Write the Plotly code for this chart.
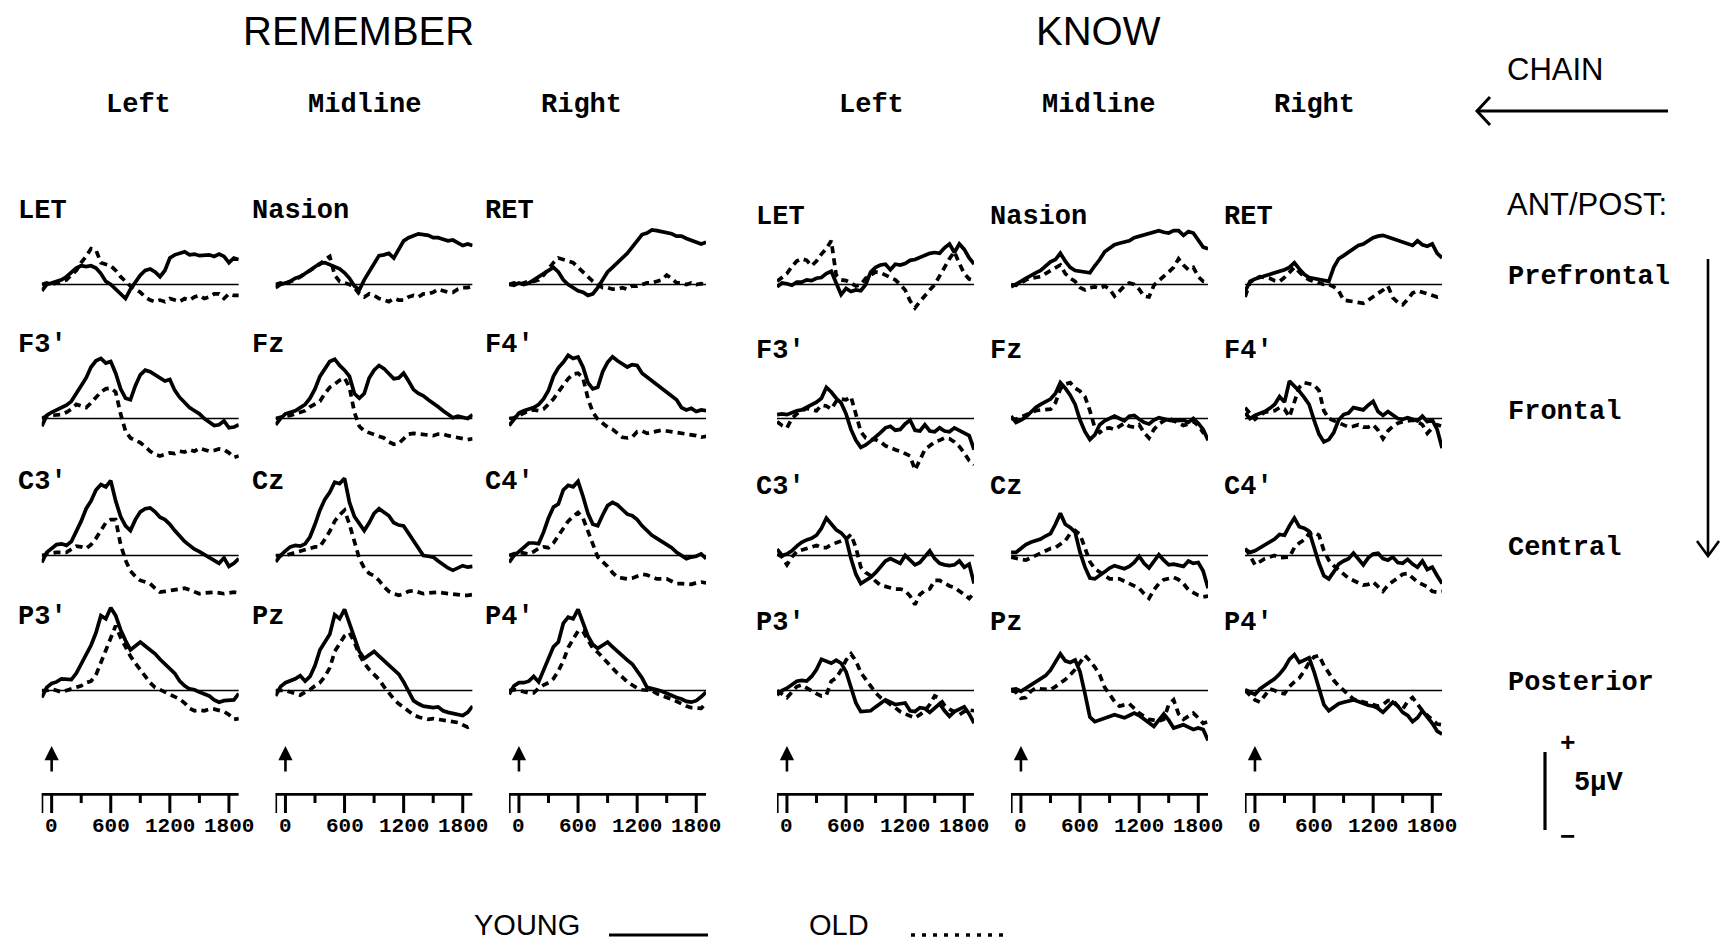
import plotly.graph_objects as go

# ---------------------------------------------------------------------------
# Grand-average ERPs (microvolts), sampled every 50 ms from -100 to 1900 ms
# ---------------------------------------------------------------------------
TIMES_MS = list(range(-100, 1901, 50))

# ---- REMEMBER -------------------------------------------------------------
REM_LET_YOUNG = [-0.4, 0.0, 0.1, 0.2, 0.3, 0.5, 0.8, 1.05, 1.2, 1.15,
                 1.2, 1.05, 0.7, 0.2, 0.0, -0.3, -0.6, -0.9, -0.3, 0.2,
                 0.6, 0.9, 1.0, 0.8, 0.5, 0.9, 1.7, 1.9, 2.0, 2.1,
                 1.9, 1.95, 1.85, 1.9, 1.9, 1.8, 1.95, 1.8, 1.4, 1.7,
                 1.6]
REM_LET_OLD = [0.0, 0.1, 0.0, 0.1, 0.2, 0.3, 0.6, 0.9, 1.4, 1.8,
               2.3, 2.2, 1.4, 1.3, 1.2, 0.9, 0.5, 0.2, -0.1, -0.3,
               -0.5, -0.8, -1.0, -1.1, -1.0, -1.1, -0.9, -1.0, -1.1, -0.9,
               -1.0, -0.8, -0.7, -0.9, -0.8, -0.6, -0.6, -0.9, -0.6, -0.7,
               -0.7]
REM_NASION_YOUNG = [-0.2, 0.0, 0.1, 0.2, 0.4, 0.5, 0.7, 0.9, 1.1, 1.35,
                    1.4, 1.25, 1.15, 1.0, 0.75, 0.4, -0.1, -0.35, 0.3, 0.8,
                    1.4, 1.85, 1.9, 2.0, 1.7, 2.2, 2.8, 3.0, 3.1, 3.25,
                    3.2, 3.15, 3.0, 3.0, 2.9, 2.8, 2.85, 2.7, 2.5, 2.6,
                    2.5]
REM_NASION_OLD = [0.0, 0.1, 0.0, 0.2, 0.3, 0.5, 0.7, 0.9, 1.1, 1.3,
                  1.6, 1.8, 0.6, 0.2, 0.1, 0.0, -0.2, -0.6, -0.8, -0.6,
                  -0.7, -0.9, -1.0, -1.1, -0.9, -1.0, -1.0, -0.8, -0.7, -0.8,
                  -0.6, -0.6, -0.5, -0.3, -0.4, -0.5, -0.5, -0.3, -0.2, -0.2,
                  -0.1]
REM_RET_YOUNG = [0.0, -0.05, 0.1, 0.0, 0.1, 0.3, 0.5, 0.75, 0.9, 1.1,
                 0.8, 0.3, 0.0, -0.2, -0.4, -0.5, -0.7, -0.6, -0.2, 0.3,
                 0.8, 1.1, 1.4, 1.7, 2.0, 2.4, 2.8, 3.2, 3.3, 3.5,
                 3.45, 3.4, 3.3, 3.25, 3.1, 3.1, 2.95, 2.85, 2.7, 2.6,
                 2.7]
REM_RET_OLD = [0.0, 0.1, 0.0, 0.1, 0.2, 0.2, 0.3, 0.6, 1.0, 1.4,
               1.7, 1.6, 1.5, 1.4, 1.1, 0.8, 0.5, 0.2, 0.0, -0.2,
               -0.2, -0.3, -0.3, -0.2, -0.3, -0.1, -0.1, 0.0, 0.1, 0.1,
               0.2, 0.3, 0.6, 0.4, 0.1, 0.1, 0.0, 0.1, 0.0, 0.05,
               0.0]
REM_F3_YOUNG = [-0.5, 0.2, 0.4, 0.55, 0.65, 0.85, 1.1, 1.6, 2.1, 2.6,
                3.3, 3.7, 3.85, 3.55, 3.65, 2.9, 1.9, 1.3, 1.2, 2.1,
                2.8, 3.1, 3.0, 2.8, 2.55, 2.4, 2.5, 1.8, 1.35, 1.0,
                0.7, 0.5, 0.3, 0.0, -0.25, -0.45, -0.4, -0.15, -0.6, -0.55,
                -0.4]
REM_F3_OLD = [0.0, 0.15, 0.2, 0.2, 0.25, 0.4, 0.6, 0.9, 0.8, 0.7,
              1.0, 1.35, 1.7, 1.9, 1.95, 1.7, 0.3, -0.8, -1.25, -1.4,
              -1.55, -1.8, -2.1, -2.3, -2.4, -2.3, -2.2, -2.25, -2.1, -2.15,
              -2.0, -2.1, -1.9, -2.0, -2.1, -2.05, -1.95, -2.0, -2.2, -2.5,
              -2.4]
REM_FZ_YOUNG = [-0.4, 0.0, 0.3, 0.4, 0.5, 0.7, 0.9, 1.3, 1.9, 2.7,
                3.2, 3.65, 3.8, 3.4, 3.1, 2.7, 1.6, 1.3, 1.6, 2.6,
                3.1, 3.4, 3.2, 2.9, 2.55, 2.6, 2.9, 2.4, 1.85, 1.6,
                1.45, 1.2, 1.0, 0.75, 0.5, 0.25, 0.05, 0.15, 0.05, 0.0,
                0.25]
REM_FZ_OLD = [0.0, 0.1, 0.15, 0.2, 0.3, 0.35, 0.5, 0.75, 0.9, 1.1,
              1.6, 2.0, 2.2, 2.45, 2.6, 2.0, 0.4, -0.5, -0.8, -0.9,
              -1.0, -1.1, -1.25, -1.5, -1.65, -1.6, -1.3, -1.0, -0.95, -1.0,
              -1.05, -1.1, -1.1, -1.0, -1.0, -1.1, -1.15, -1.2, -1.25, -1.35,
              -1.3]
REM_F4_YOUNG = [-0.45, 0.0, 0.35, 0.5, 0.6, 0.7, 0.9, 1.25, 1.8, 2.7,
                3.25, 3.6, 4.05, 3.85, 3.95, 3.3, 2.3, 1.9, 2.0, 3.0,
                3.6, 3.95, 3.7, 3.5, 3.3, 3.45, 3.4, 2.9, 2.65, 2.45,
                2.2, 1.95, 1.7, 1.45, 1.2, 0.7, 0.55, 0.65, 0.45, 0.55,
                0.5]
REM_F4_OLD = [0.0, 0.05, 0.2, 0.35, 0.5, 0.55, 0.5, 0.6, 0.9, 1.25,
              1.7, 2.1, 2.55, 2.85, 2.9, 2.6, 1.3, 0.4, -0.05, -0.3,
              -0.55, -0.7, -0.95, -1.2, -1.25, -1.2, -0.85, -0.8, -0.95, -0.9,
              -0.8, -0.75, -0.8, -0.85, -0.85, -0.9, -1.0, -1.05, -1.1, -1.2,
              -1.15]
REM_C3_YOUNG = [-0.45, 0.2, 0.45, 0.7, 0.75, 0.65, 0.9, 1.5, 2.2, 3.0,
                3.5, 4.2, 4.55, 4.4, 4.8, 3.5, 2.5, 1.9, 1.6, 2.3,
                2.8, 3.0, 3.05, 2.8, 2.45, 2.3, 2.0, 1.6, 1.25, 0.9,
                0.65, 0.4, 0.25, 0.05, -0.15, -0.35, -0.5, -0.15, -0.7, -0.5,
                -0.2]
REM_C3_OLD = [0.0, 0.1, 0.15, 0.2, 0.2, 0.2, 0.4, 0.6, 0.55, 0.45,
              0.7, 1.1, 1.6, 2.1, 2.3, 2.3, 0.7, -0.3, -1.0, -1.35,
              -1.6, -1.7, -1.8, -2.1, -2.35, -2.3, -2.25, -2.2, -2.15, -2.1,
              -2.2, -2.35, -2.45, -2.4, -2.35, -2.35, -2.4, -2.45, -2.4, -2.35,
              -2.4]
REM_CZ_YOUNG = [-0.4, 0.0, 0.3, 0.55, 0.65, 0.6, 0.75, 1.2, 2.0, 2.9,
                3.6, 4.05, 4.7, 4.6, 4.95, 3.4, 2.5, 2.0, 1.6, 2.1,
                2.7, 3.0, 2.8, 2.55, 2.1, 1.95, 1.9, 1.4, 0.95, 0.5,
                0.0, -0.05, -0.1, -0.35, -0.6, -0.8, -0.95, -0.8, -0.65, -0.75,
                -0.7]
REM_CZ_OLD = [0.0, 0.0, 0.0, 0.1, 0.2, 0.3, 0.4, 0.5, 0.55, 0.55,
              1.0, 1.55, 2.2, 2.6, 2.9, 2.0, 0.9, -0.2, -0.8, -1.15,
              -1.3, -1.6, -2.0, -2.3, -2.45, -2.55, -2.45, -2.3, -2.25, -2.35,
              -2.45, -2.4, -2.35, -2.35, -2.4, -2.45, -2.45, -2.5, -2.55, -2.55,
              -2.5]
REM_C4_YOUNG = [-0.45, 0.0, 0.25, 0.55, 0.8, 0.8, 0.75, 1.5, 2.4, 3.1,
                3.3, 4.2, 4.5, 4.4, 4.75, 3.8, 2.7, 2.0, 1.9, 2.6,
                3.2, 3.4, 3.25, 2.95, 2.65, 2.55, 2.3, 1.9, 1.6, 1.3,
                1.1, 0.9, 0.7, 0.5, 0.2, 0.0, -0.2, -0.1, -0.05, 0.1,
                -0.2]
REM_C4_OLD = [0.0, 0.1, 0.2, 0.15, 0.1, 0.25, 0.45, 0.55, 0.5, 0.8,
              1.25, 1.65, 2.2, 2.5, 2.75, 2.4, 1.6, 0.65, -0.1, -0.4,
              -0.7, -1.1, -1.4, -1.45, -1.5, -1.45, -1.35, -1.2, -1.25, -1.4,
              -1.5, -1.5, -1.5, -1.65, -1.8, -1.8, -1.8, -1.85, -1.75, -1.7,
              -1.75]
REM_P3_YOUNG = [-0.45, 0.2, 0.45, 0.55, 0.75, 0.75, 0.7, 1.1, 1.7, 2.3,
                2.9, 3.7, 4.8, 4.6, 5.3, 4.8, 3.9, 3.2, 2.6, 2.85,
                3.1, 2.85, 2.6, 2.35, 2.0, 1.7, 1.4, 1.1, 0.6, 0.3,
                0.1, 0.05, -0.1, -0.2, -0.35, -0.6, -0.75, -0.65, -0.65, -0.6,
                -0.2]
REM_P3_OLD = [0.0, 0.0, 0.1, 0.0, -0.1, 0.0, 0.1, 0.15, 0.3, 0.5,
              0.6, 1.0, 1.8, 2.7, 3.4, 4.15, 3.4, 2.75, 2.2, 1.75,
              1.35, 0.9, 0.5, 0.2, 0.05, -0.1, -0.2, -0.35, -0.55, -0.8,
              -1.15, -1.3, -1.25, -1.3, -1.2, -1.2, -1.25, -1.35, -1.55, -1.85,
              -1.8]
REM_PZ_YOUNG = [-0.35, 0.25, 0.5, 0.6, 0.75, 0.95, 0.6, 0.9, 1.6, 2.6,
                3.1, 3.6, 4.85, 4.6, 5.2, 4.3, 3.3, 2.5, 2.05, 2.3,
                2.5, 2.2, 1.9, 1.65, 1.35, 1.05, 0.55, 0.0, -0.65, -0.85,
                -1.0, -1.05, -1.1, -1.05, -1.3, -1.4, -1.45, -1.55, -1.6, -1.4,
                -1.0]
REM_PZ_OLD = [0.0, 0.0, 0.0, -0.1, -0.2, -0.3, -0.1, 0.05, 0.3, 0.5,
              0.9, 1.45, 2.5, 3.0, 3.5, 3.7, 3.1, 2.3, 1.75, 1.35,
              1.05, 0.7, 0.25, -0.15, -0.55, -0.85, -1.1, -1.35, -1.55, -1.7,
              -1.8, -1.85, -1.8, -1.85, -1.9, -1.95, -1.95, -2.05, -2.2, -2.35,
              -2.2]
REM_P4_YOUNG = [-0.25, 0.3, 0.5, 0.5, 0.6, 0.9, 0.55, 1.3, 2.2, 2.8,
                3.1, 4.3, 4.7, 4.6, 5.2, 4.4, 3.5, 2.95, 2.7, 2.9,
                3.1, 2.8, 2.5, 2.2, 1.95, 1.7, 1.25, 0.8, 0.2, 0.15,
                0.05, -0.05, -0.2, -0.3, -0.45, -0.55, -0.7, -0.75, -0.65, -0.4,
                -0.1]
REM_P4_OLD = [0.0, 0.05, 0.0, -0.1, -0.15, -0.15, 0.15, 0.35, 0.5, 0.75,
              1.25, 1.9, 2.75, 3.3, 3.8, 3.8, 3.3, 2.7, 2.45, 2.1,
              1.75, 1.4, 1.1, 0.85, 0.55, 0.35, 0.15, 0.05, 0.0, 0.0,
              -0.2, -0.35, -0.45, -0.55, -0.7, -0.9, -1.0, -1.1, -1.15, -1.15,
              -0.8]

# ---- KNOW -----------------------------------------------------------------
KNOW_LET_YOUNG = [-0.15, 0.1, 0.05, -0.05, 0.15, 0.15, 0.3, 0.25, 0.4, 0.45,
                  0.7, 0.85, 0.1, -0.65, -0.25, -0.45, -0.35, -0.4, 0.0, 0.8,
                  1.1, 1.25, 1.3, 0.95, 1.3, 1.25, 1.35, 1.55, 1.6, 1.75,
                  1.85, 2.0, 2.05, 2.0, 2.35, 2.6, 2.05, 2.6, 2.25, 1.7,
                  1.3]
KNOW_LET_OLD = [0.2, 0.45, 0.7, 1.15, 1.5, 1.65, 1.55, 1.2, 1.5, 1.95,
                2.3, 2.8, 0.6, 0.3, 0.25, 0.1, -0.1, 0.0, 0.4, 0.6,
                0.8, 0.75, 0.6, 0.5, 0.3, 0.0, -0.35, -1.05, -1.5, -1.1,
                -0.7, -0.35, 0.0, 0.5, 1.1, 1.65, 2.1, 1.35, 0.7, 0.35,
                0.25]
KNOW_NASION_YOUNG = [-0.15, 0.0, 0.2, 0.4, 0.6, 0.75, 0.9, 1.15, 1.45, 1.6,
                     2.0, 1.5, 1.1, 0.9, 0.85, 0.8, 0.75, 1.2, 1.6, 2.1,
                     2.35, 2.55, 2.65, 2.7, 2.8, 3.0, 3.1, 3.2, 3.3, 3.4,
                     3.45, 3.35, 3.3, 3.45, 3.45, 3.15, 3.4, 3.3, 2.8, 2.4,
                     2.3]
KNOW_NASION_OLD = [0.0, -0.05, 0.1, 0.3, 0.4, 0.45, 0.5, 0.7, 0.9, 1.05,
                   1.25, 0.7, 0.4, 0.2, -0.2, -0.35, -0.2, -0.15, -0.25, -0.1,
                   -0.3, -0.75, -0.4, -0.1, 0.1, 0.0, -0.3, -0.75, -0.8, -0.05,
                   0.25, 0.5, 0.8, 1.1, 1.65, 1.25, 0.95, 1.1, 0.5, 0.2,
                   0.15]
KNOW_RET_YOUNG = [-0.45, 0.2, 0.35, 0.45, 0.55, 0.6, 0.7, 0.8, 0.95, 1.1,
                  1.4, 1.0, 0.65, 0.45, 0.4, 0.35, 0.3, 0.2, 1.1, 1.65,
                  1.85, 2.05, 2.3, 2.5, 2.6, 2.8, 3.0, 3.1, 3.15, 3.05,
                  2.95, 2.85, 2.7, 2.6, 2.5, 2.8, 2.55, 2.45, 2.6, 2.0,
                  1.7]
KNOW_RET_OLD = [-0.8, 0.15, 0.35, 0.5, 0.45, 0.4, 0.25, 0.2, 0.45, 0.75,
                1.1, 0.8, 0.5, 0.3, 0.2, 0.1, 0.0, 0.0, -0.15, -0.4,
                -1.0, -1.05, -1.1, -1.15, -1.2, -1.0, -0.8, -0.6, -0.35, -0.1,
                -0.85, -1.15, -1.3, -0.95, -0.55, -0.4, -0.5, -0.65, -0.75, -0.8,
                -0.75]
KNOW_F3_YOUNG = [0.25, 0.3, 0.25, 0.4, 0.5, 0.55, 0.7, 0.85, 1.05, 1.3,
                 2.0, 1.7, 1.3, 1.0, 0.3, -0.7, -1.4, -1.85, -1.7, -1.45,
                 -1.2, -0.9, -0.6, -0.5, -0.75, -0.7, -0.35, -0.1, -0.75, -0.8,
                 -0.4, -0.8, -0.85, -0.6, -0.8, -0.85, -0.6, -0.75, -0.95, -1.1,
                 -2.0]
KNOW_F3_OLD = [-0.2, -0.45, -0.6, 0.0, 0.3, 0.5, 0.65, 0.55, 0.5, 0.85,
               0.8, 0.6, 1.1, 1.25, 1.2, 1.4, 0.3, -0.85, -1.25, -1.35,
               -1.35, -1.5, -1.75, -1.9, -2.0, -2.1, -2.25, -2.4, -3.3, -2.6,
               -2.0, -1.75, -1.5, -1.4, -1.25, -1.3, -1.5, -1.8, -2.2, -2.7,
               -2.95]
KNOW_FZ_YOUNG = [0.15, -0.25, -0.1, 0.1, 0.4, 0.7, 0.9, 1.05, 1.25, 1.6,
                 2.3, 1.95, 1.5, 0.9, -0.1, -0.85, -1.35, -1.05, -0.4, -0.15,
                 0.0, 0.15, 0.0, -0.15, 0.15, 0.2, -0.05, -0.25, -0.35, -0.1,
                 0.05, -0.05, -0.1, -0.15, -0.1, -0.1, -0.25, 0.0, -0.3, -0.7,
                 -1.4]
KNOW_FZ_OLD = [0.0, -0.05, 0.1, 0.25, 0.4, 0.5, 0.55, 0.55, 0.6, 1.0,
               1.9, 2.2, 2.3, 1.95, 1.75, 1.4, 0.5, -0.6, -0.9, -0.65,
               -0.6, -0.7, -0.5, -0.3, -0.5, -0.55, -0.4, -0.9, -1.25, -0.7,
               -0.35, -0.15, 0.05, -0.15, -0.3, -0.45, -0.35, -0.2, -0.45, -0.9,
               -0.9]
KNOW_F4_YOUNG = [0.35, 0.0, 0.2, 0.3, 0.45, 0.65, 0.9, 1.4, 1.05, 2.4,
                 2.1, 1.75, 1.35, 0.9, -0.1, -1.0, -1.5, -1.35, -0.9, -0.1,
                 0.25, 0.35, 0.7, 0.6, 0.55, 0.85, 1.1, 0.45, 0.2, 0.45,
                 0.2, 0.0, -0.05, 0.05, -0.05, -0.15, 0.15, -0.2, -0.1, -0.7,
                 -1.9]
KNOW_F4_OLD = [0.7, 0.3, -0.05, 0.2, 0.4, 0.45, 0.5, 0.7, 0.6, 0.1,
               1.1, 2.0, 2.3, 2.25, 2.15, 1.8, 0.5, 0.0, -0.15, -0.3,
               -0.45, -0.55, -0.5, -0.4, -0.55, -0.55, -0.4, -0.75, -1.3, -0.8,
               -0.5, -0.3, -0.2, -0.15, -0.1, -0.2, -0.4, -0.95, -0.6, -0.4,
               -0.5]
KNOW_C3_YOUNG = [0.4, 0.0, 0.1, 0.3, 0.6, 0.85, 1.0, 1.1, 1.3, 1.75,
                 2.4, 2.0, 1.65, 1.45, 1.1, -0.2, -1.2, -1.8, -1.6, -1.4,
                 -1.1, -0.7, -0.35, -0.2, -0.35, -0.5, 0.0, -0.3, -0.6, -0.45,
                 -0.1, 0.3, -0.2, -0.5, -0.6, -0.65, -0.6, -0.35, -0.75, -0.55,
                 -1.8]
KNOW_C3_OLD = [0.1, -0.1, -0.6, -0.1, 0.25, 0.35, 0.45, 0.55, 0.65, 0.5,
               0.5, 0.7, 0.8, 0.9, 1.05, 1.35, 0.5, -0.75, -1.1, -1.3,
               -1.65, -1.9, -2.0, -2.05, -2.15, -2.15, -2.25, -2.6, -3.15, -2.5,
               -2.25, -2.15, -1.6, -1.6, -1.8, -1.95, -2.05, -2.25, -2.5, -2.75,
               -2.4]
KNOW_CZ_YOUNG = [0.2, 0.2, 0.45, 0.7, 0.85, 0.95, 1.05, 1.25, 1.4, 2.0,
                 2.7, 2.0, 1.8, 1.5, 0.2, -0.75, -1.45, -1.5, -1.3, -1.05,
                 -0.8, -0.65, -0.75, -0.85, -0.7, -0.45, -0.05, -0.5, -0.8, -0.4,
                 0.05, -0.3, -0.6, -0.55, -0.65, -0.7, -0.35, -0.5, -0.45, -1.0,
                 -2.1]
KNOW_CZ_OLD = [-0.1, -0.2, -0.25, -0.3, -0.15, 0.0, 0.2, 0.35, 0.45, 0.5,
               0.7, 0.95, 1.4, 1.6, 1.35, 0.5, -0.4, -0.85, -1.05, -1.25,
               -1.5, -1.5, -1.5, -1.65, -1.8, -1.95, -2.1, -2.45, -2.75, -2.2,
               -1.8, -1.55, -1.45, -1.4, -1.55, -1.8, -2.2, -2.4, -2.55, -2.65,
               -2.6]
KNOW_C4_YOUNG = [0.4, 0.2, 0.3, 0.5, 0.7, 0.85, 1.05, 1.35, 1.3, 1.9,
                 2.4, 1.85, 1.75, 1.55, 0.5, -0.5, -1.3, -1.5, -1.05, -0.55,
                 -0.35, -0.2, 0.15, -0.2, -0.6, -0.15, 0.1, 0.15, -0.2, -0.3,
                 -0.1, -0.45, -0.5, -0.25, -0.55, -0.75, -0.35, -0.9, -0.75, -1.3,
                 -1.8]
KNOW_C4_OLD = [0.45, 0.0, -0.6, -0.4, -0.2, -0.1, 0.0, -0.15, -0.15, -0.1,
               0.5, 0.8, 1.0, 1.4, 1.5, 1.3, 0.3, -0.3, -0.65, -0.9,
               -1.2, -1.45, -1.6, -1.75, -1.9, -1.85, -1.7, -2.0, -2.3, -1.9,
               -1.65, -1.45, -1.2, -1.15, -1.45, -1.7, -1.85, -2.0, -2.3, -2.35,
               -2.3]
KNOW_P3_YOUNG = [-0.3, 0.0, 0.15, 0.4, 0.6, 0.65, 0.6, 0.9, 1.35, 2.0,
                 1.9, 1.75, 1.95, 1.75, 1.2, 0.15, -0.8, -1.35, -1.35, -1.3,
                 -1.05, -0.8, -0.6, -0.75, -0.9, -0.85, -0.8, -1.3, -1.35, -1.1,
                 -1.15, -1.4, -1.1, -0.85, -1.3, -1.65, -1.35, -1.2, -1.05, -1.5,
                 -2.1]
KNOW_P3_OLD = [0.0, -0.2, -0.45, -0.1, 0.25, 0.35, 0.15, 0.0, -0.2, -0.35,
               -0.3, 0.6, 0.8, 1.3, 1.95, 2.35, 1.9, 1.15, 0.7, 0.3,
               -0.15, -0.45, -0.7, -0.9, -1.1, -1.35, -1.5, -1.65, -1.75, -1.55,
               -1.3, -0.9, -0.35, -0.5, -0.95, -1.2, -1.4, -1.55, -1.35, -1.25,
               -1.3]
KNOW_PZ_YOUNG = [0.05, 0.1, -0.05, 0.15, 0.35, 0.5, 0.7, 0.95, 1.3, 1.8,
                 2.35, 1.9, 1.8, 1.95, 1.2, -0.2, -1.7, -2.0, -1.9, -1.8,
                 -1.65, -1.55, -1.65, -1.75, -1.6, -1.45, -1.6, -1.85, -2.05, -2.3,
                 -1.9, -1.5, -1.9, -2.4, -2.3, -2.2, -2.35, -2.5, -2.4, -2.5,
                 -3.2]
KNOW_PZ_OLD = [0.0, -0.1, -0.5, -0.45, -0.05, 0.15, 0.1, 0.05, 0.05, 0.25,
               0.45, 0.7, 1.0, 1.35, 1.8, 2.25, 1.9, 1.5, 1.0, 0.2,
               -0.25, -0.7, -1.0, -0.9, -0.85, -1.15, -1.45, -1.65, -1.85, -1.9,
               -1.95, -1.85, -0.9, -0.6, -1.5, -1.85, -1.65, -1.45, -1.75, -2.1,
               -2.0]
KNOW_P4_YOUNG = [0.05, -0.1, -0.25, 0.1, 0.3, 0.5, 0.75, 1.05, 1.45, 2.0,
                 2.3, 1.8, 1.95, 2.1, 1.2, 0.2, -0.9, -1.3, -1.05, -0.85,
                 -0.75, -0.65, -0.6, -0.7, -0.85, -0.95, -1.0, -1.15, -1.4, -1.1,
                 -0.75, -1.0, -1.4, -1.6, -2.0, -1.75, -1.3, -1.7, -2.1, -2.6,
                 -2.8]
KNOW_P4_OLD = [0.0, -0.3, -0.6, -0.75, -0.3, 0.1, 0.0, -0.15, -0.2, 0.25,
               0.55, 0.8, 1.25, 1.8, 2.15, 2.25, 1.6, 1.1, 0.65, 0.3,
               0.0, -0.3, -0.55, -0.65, -0.75, -0.8, -0.9, -1.0, -0.9, -0.65,
               -0.65, -1.0, -1.2, -0.7, -0.45, -0.9, -1.3, -1.6, -1.9, -2.15,
               -2.2]

# ---- labels ---------------------------------------------------------------
CONDITIONS = ["REMEMBER", "KNOW"]
CHAINS = ["Left", "Midline", "Right"]
SITES = [["LET", "Nasion", "RET"],
         ["F3'", "Fz", "F4'"],
         ["C3'", "Cz", "C4'"],
         ["P3'", "Pz", "P4'"]]
REGIONS = ["Prefrontal", "Frontal", "Central", "Posterior"]
MAJOR_TICKS = [-100, 0, 600, 1200, 1800]
MAJOR_TICK_TEXT = ["", "0", "600", "1200", "1800"]
MINOR_TICKS = [300, 900, 1500]
SCALE_UV = 5
GROUPS = ["YOUNG", "OLD"]

YOUNG = {
    "REMEMBER": [[REM_LET_YOUNG, REM_NASION_YOUNG, REM_RET_YOUNG],
                 [REM_F3_YOUNG, REM_FZ_YOUNG, REM_F4_YOUNG],
                 [REM_C3_YOUNG, REM_CZ_YOUNG, REM_C4_YOUNG],
                 [REM_P3_YOUNG, REM_PZ_YOUNG, REM_P4_YOUNG]],
    "KNOW": [[KNOW_LET_YOUNG, KNOW_NASION_YOUNG, KNOW_RET_YOUNG],
             [KNOW_F3_YOUNG, KNOW_FZ_YOUNG, KNOW_F4_YOUNG],
             [KNOW_C3_YOUNG, KNOW_CZ_YOUNG, KNOW_C4_YOUNG],
             [KNOW_P3_YOUNG, KNOW_PZ_YOUNG, KNOW_P4_YOUNG]],
}
OLD = {
    "REMEMBER": [[REM_LET_OLD, REM_NASION_OLD, REM_RET_OLD],
                 [REM_F3_OLD, REM_FZ_OLD, REM_F4_OLD],
                 [REM_C3_OLD, REM_CZ_OLD, REM_C4_OLD],
                 [REM_P3_OLD, REM_PZ_OLD, REM_P4_OLD]],
    "KNOW": [[KNOW_LET_OLD, KNOW_NASION_OLD, KNOW_RET_OLD],
             [KNOW_F3_OLD, KNOW_FZ_OLD, KNOW_F4_OLD],
             [KNOW_C3_OLD, KNOW_CZ_OLD, KNOW_C4_OLD],
             [KNOW_P3_OLD, KNOW_PZ_OLD, KNOW_P4_OLD]],
}
for cond in CONDITIONS:
    for row in YOUNG[cond] + OLD[cond]:
        for series in row:
            assert len(series) == len(TIMES_MS)

# ---------------------------------------------------------------------------
# Page geometry (pixels)
# ---------------------------------------------------------------------------
W, H = 1721, 941
SANS = "Liberation Sans, Arial, Helvetica, sans-serif"
MONO = "Liberation Mono, Cousine, DejaVu Sans Mono, monospace"

PX_PER_MS = 0.0985
PX_PER_UV = 15.6
T_MIN, T_MAX = -101, 1900
UV_MIN, UV_MAX = -4.0, 6.0
COL_X0 = [41.7, 275.5, 509.0, 777.0, 1011.0, 1245.0]
ROW_BASE = [284.5, 418.5, 555.5, 690.5]
AXIS_Y = 793.0
TICK_LONG, TICK_SHORT = 20, 10
TICK_LABEL_Y = 826.0
PANEL_W = (T_MAX - T_MIN) * PX_PER_MS
SITE_DX = {"REMEMBER": -25, "KNOW": -22}
SITE_DY = {"REMEMBER": -73.5, "KNOW": -68}

LINE_W = 3.7
OLD_DASH = "7px,5px"


def px(x):
    return x / W


def py(y):
    return 1 - y / H


def ax_name(kind, n):
    return kind if n == 1 else f"{kind}{n}"


fig = go.Figure()
layout = dict(width=W, height=H, autosize=False,
              margin=dict(l=0, r=0, t=0, b=0, pad=0),
              paper_bgcolor="white", plot_bgcolor="rgba(0,0,0,0)",
              showlegend=False)
annotations = []
shapes = []


def text(s, x, y, size, family, xanchor="center", bold=False, xref="paper"):
    annotations.append(dict(
        text=s, x=px(x) if xref == "paper" else x, y=py(y), xref=xref,
        yref="paper", xanchor=xanchor, yanchor="middle", showarrow=False,
        borderpad=0,
        font=dict(family=family, size=size, color="black",
                  weight="bold" if bold else "normal")))


# ---- waveform panels ------------------------------------------------------
n = 0
for ci, cond in enumerate(CONDITIONS):
    for r in range(len(SITES)):
        for c in range(len(CHAINS)):
            n += 1
            col = ci * 3 + c
            x0 = COL_X0[col]
            base = ROW_BASE[r]
            xa, ya = ax_name("x", n), ax_name("y", n)
            layout[ax_name("xaxis", n)] = dict(
                domain=[px(x0), px(x0 + PANEL_W)], range=[T_MIN, T_MAX],
                anchor=ya, visible=False, fixedrange=True)
            layout[ax_name("yaxis", n)] = dict(
                domain=[py(base - UV_MIN * PX_PER_UV), py(base - UV_MAX * PX_PER_UV)],
                range=[UV_MIN, UV_MAX], anchor=xa, visible=False, fixedrange=True)
            # zero-voltage baseline
            fig.add_trace(go.Scatter(
                x=[T_MIN, T_MAX], y=[0, 0], mode="lines", xaxis=xa, yaxis=ya,
                line=dict(color="black", width=1.7), hoverinfo="skip"))
            fig.add_trace(go.Scatter(
                x=TIMES_MS, y=OLD[cond][r][c], mode="lines", xaxis=xa, yaxis=ya,
                name="OLD", line=dict(color="black", width=LINE_W, dash=OLD_DASH)))
            fig.add_trace(go.Scatter(
                x=TIMES_MS, y=YOUNG[cond][r][c], mode="lines", xaxis=xa, yaxis=ya,
                name="YOUNG", line=dict(color="black", width=LINE_W)))
            text(SITES[r][c], x0 + SITE_DX[cond], base + SITE_DY[cond], 27, MONO,
                 xanchor="left", bold=True)


def tick_path(values, length):
    xs, ys = [], []
    for v in values:
        xs += [v, v, None]
        ys += [0, -length, None]
    return xs, ys


# ---- time axes under each chain column ------------------------------------
# y of these small subplots runs in pixels below the axis line
for col, x0 in enumerate(COL_X0):
    n += 1
    xa, ya = ax_name("x", n), ax_name("y", n)
    layout[ax_name("xaxis", n)] = dict(
        domain=[px(x0), px(x0 + PANEL_W)], range=[T_MIN, T_MAX], anchor=ya,
        visible=False, fixedrange=True)
    layout[ax_name("yaxis", n)] = dict(
        domain=[py(AXIS_Y + TICK_LONG + 2), py(AXIS_Y)],
        range=[-(TICK_LONG + 2), 0], anchor=xa, visible=False, fixedrange=True)
    fig.add_trace(go.Scatter(
        x=[T_MIN, T_MAX], y=[-1.4, -1.4], mode="lines", xaxis=xa, yaxis=ya,
        line=dict(color="black", width=2.8), hoverinfo="skip"))
    for values, length in ((MAJOR_TICKS, TICK_LONG), (MINOR_TICKS, TICK_SHORT)):
        tx, ty = tick_path(values, length)
        fig.add_trace(go.Scatter(
            x=tx, y=ty, mode="lines", xaxis=xa, yaxis=ya,
            line=dict(color="black", width=3), hoverinfo="skip"))
    for tv, tt in zip(MAJOR_TICKS, MAJOR_TICK_TEXT):
        if tt:
            text(tt, tv, TICK_LABEL_Y, 21, MONO, bold=True, xref=xa)
    # stimulus onset arrow
    annotations.append(dict(
        text="", x=0, y=py(746), xref=xa, yref="paper", ax=0, ay=27,
        showarrow=True, arrowhead=2, arrowsize=1.1, arrowwidth=2.6,
        arrowcolor="black"))

# ---- headings -------------------------------------------------------------
text("REMEMBER", 358, 31, 40, SANS)
text("KNOW", 1098, 31, 40, SANS)
for x, s in zip([138, 364, 581, 871.5, 1098, 1314], CHAINS * 2):
    text(s, x, 105, 27, MONO, bold=True)

# ---- right-hand key -------------------------------------------------------
text("CHAIN", 1506, 70, 31, SANS, xanchor="left")
text("ANT/POST:", 1506, 205, 31, SANS, xanchor="left")
for y, s in zip([277, 412, 548, 683], REGIONS):
    text(s, 1507, y, 27, MONO, xanchor="left", bold=True)


def seg(x1, y1, x2, y2, width=3.0, dash="solid"):
    shapes.append(dict(type="line", xref="paper", yref="paper",
                       x0=px(x1), y0=py(y1), x1=px(x2), y1=py(y2),
                       line=dict(color="black", width=width, dash=dash)))


def chevron(pts, width=3.0):
    path = "M " + " L ".join(f"{px(a):.5f},{py(b):.5f}" for a, b in pts)
    shapes.append(dict(type="path", xref="paper", yref="paper", path=path,
                       line=dict(color="black", width=width)))


# chain direction arrow (pointing left)
seg(1668, 111, 1478, 111)
chevron([(1490, 97), (1477, 111), (1490, 125)])
# anterior/posterior arrow (pointing down)
seg(1708, 259, 1708, 555, width=2.6)
chevron([(1697, 541), (1708, 556), (1719, 541)], width=2.6)

# amplitude calibration bar
bar_bottom = 830
seg(1545, bar_bottom - SCALE_UV * PX_PER_UV, 1545, bar_bottom, width=3.2)
text("+", 1568, 744, 26, MONO, bold=True)
text("\u2212", 1568, 838, 26, MONO, bold=True)
text(f"{SCALE_UV}\u00b5V", 1573, 783, 27, MONO, xanchor="left", bold=True)

# ---- group key ------------------------------------------------------------
text(GROUPS[0], 527, 925, 29, SANS)
seg(609, 935, 708, 935, width=3.0)
text(GROUPS[1], 839, 925, 29, SANS)
seg(911, 935, 1008, 935, width=3.4, dash="4px,7px")

layout["annotations"] = annotations
layout["shapes"] = shapes
fig.update_layout(**layout)

# keep the page free of default body margins so the figure sits at the origin
PAGE_CSS = ("document.documentElement.style.margin='0';"
            "document.body.style.margin='0';document.body.style.padding='0';"
            "document.documentElement.style.overflow='hidden';"
            "document.body.style.overflow='hidden';")
fig.write_html("out.html", post_script=PAGE_CSS)
